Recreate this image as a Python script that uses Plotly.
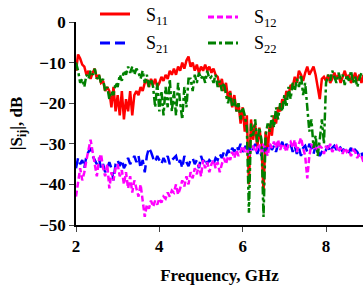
import plotly.graph_objects as go

freq = [round(2.0 + 0.05 * i, 2) for i in range(139)]

s11 = [-12, -8, -9, -10.5, -11, -13, -12, -14, -12.5, -11.5,
       -14, -13, -15, -14.5, -17, -16, -17, -21, -16, -22,
       -18, -23, -17, -24, -19, -22, -17, -23, -18, -17,
       -18, -16, -17, -15, -14.5, -16, -14, -15.5, -14, -16,
       -15, -13.5, -14.5, -13, -14, -12, -13, -11.5, -13, -11,
       -12, -10, -11.5, -9.5, -8.5, -11, -10, -12, -10.5, -12.5,
       -11, -12, -10.5, -12, -11, -12.5, -11.5, -13, -13.5, -16,
       -14, -17, -15, -19, -17, -21, -18, -22, -20, -25,
       -21, -27, -23, -40, -24, -29, -25, -31, -26, -30,
       -42, -27, -32, -25, -28, -23, -25, -21, -22, -19,
       -20, -17, -18, -15.5, -16, -13.5, -15, -12, -13, -14.5,
       -12.5, -11, -13, -12, -11, -13, -16, -19, -14, -13.5,
       -14.5, -13, -15, -14, -12.5, -14, -13, -15, -13.5, -12,
       -14, -13, -15, -14, -12.5, -14.5, -13, -15, -13]

s21 = [-36, -33.5, -35, -34, -36, -33, -32, -31, -33, -34,
       -35, -33.5, -36, -35, -37, -36, -34.5, -36, -39, -35,
       -34, -35.5, -34, -36, -35, -33.5, -35, -34, -33, -34.5,
       -33, -36, -34, -37, -33, -31, -32, -33.5, -34.5, -33,
       -34, -35, -33.5, -34.5, -33, -35, -34, -33.5, -33, -35,
       -34, -36, -33, -34.5, -35.5, -34, -33.5, -35, -34, -36,
       -33, -34.5, -33.5, -35, -34, -34.5, -35, -33.5, -34, -32.5,
       -33.5, -32, -33, -31.5, -32.5, -31, -32, -30.5, -31.5, -30,
       -32, -31, -30, -32, -30.5, -31.5, -30, -32.5, -31, -33,
       -30.5, -32, -31, -30, -31.5, -30.5, -32, -30, -31, -29.5,
       -31.5, -30, -31, -30, -32, -30.5, -32.5, -31, -33, -31,
       -30.5, -32, -30, -31, -32.5, -30.5, -31.5, -33, -32, -31,
       -31.5, -30.5, -32, -31, -30.5, -31.5, -30.5, -31, -32, -31,
       -31.5, -32, -31, -32.5, -31.5, -32, -33, -32, -34]

s12 = [-43, -40, -36, -39, -37, -34, -31, -29, -32, -35,
       -38, -34, -32.5, -36, -38, -35, -41, -37, -39, -36,
       -35, -38, -36.5, -40, -37, -41, -38, -42, -39, -41,
       -43, -40, -44, -48, -45, -46, -44, -45.5, -44, -45,
       -43.5, -44.5, -43, -43.5, -42, -43, -41.5, -42, -40, -42.5,
       -41, -39, -40.5, -38, -40, -37, -38.5, -36, -37.5, -35,
       -38, -34, -36, -34.5, -37, -35, -34, -36, -34.5, -37,
       -35, -33.5, -35, -33, -34, -32, -33.5, -31.5, -33, -32,
       -30.5, -32, -31, -33, -31.5, -30.5, -32, -31, -30, -32.5,
       -30, -31.5, -33, -30, -31, -29.5, -31, -29, -31.5, -30,
       -30.5, -32, -30, -29.5, -31, -29, -32, -30, -28.5, -31,
       -33, -38.5, -33, -30, -31.5, -30, -32, -30.5, -31, -32.5,
       -30.5, -31.5, -30, -32, -31, -30.5, -32, -31, -32.5, -31,
       -32, -31.5, -33, -31.5, -32, -33.5, -32.5, -33, -34.5]

s22 = [-10, -12, -15, -14, -16, -13, -14, -12, -13, -11.5,
       -14, -13, -15, -14, -17, -16, -19, -17, -18, -15,
       -16, -13, -14.5, -12, -13, -11, -12.5, -11, -13, -11.5,
       -12.5, -14, -12, -15, -13, -16, -14, -16, -21, -15,
       -22, -17, -23, -16, -21, -14, -22, -17, -23, -15,
       -20, -24, -16, -21, -14, -14, -17, -13, -15, -12.5,
       -14, -13, -15, -12, -14, -13.5, -15, -13, -16, -14.5,
       -17, -15, -18, -20, -17.5, -21, -19, -22, -20, -24,
       -21, -23, -26, -47, -25, -28, -24, -30, -26, -29,
       -48, -28, -25, -27, -23, -26, -21, -24, -20, -22,
       -18, -21, -16, -19, -15, -17, -14, -16, -13, -18,
       -15, -22, -27, -24, -31, -28, -33, -29, -24, -30,
       -15, -13, -14.5, -12, -13.5, -15, -12.5, -14, -13, -15.5,
       -13, -14.5, -12, -15, -13.5, -16, -14, -12.5, -13]

x_ticks = [2, 4, 6, 8]
y_ticks = [0, -10, -20, -30, -40, -50]

legend_names = ["S<sub>11</sub>", "S<sub>12</sub>", "S<sub>21</sub>", "S<sub>22</sub>"]
legend_colors = ["#ff0000", "#ff00ff", "#0000ff", "#008000"]
legend_dashes = ["solid", "6px,3px", "10px,5px", "8px,3px,3px,3px"]

SERIF = "Liberation Serif, Times New Roman, serif"
W, H = 363, 289
L, R, T, B = 76, 0, 22, 64
PW, PH = W - L - R, H - T - B


def px_x(px):
    return (px - L) / PW


def px_y(py):
    return (H - B - py) / PH


fig = go.Figure()
fig.add_trace(go.Scatter(x=freq, y=s11, mode="lines", name=legend_names[0], showlegend=False,
                         line=dict(color=legend_colors[0], width=2.5)))
fig.add_trace(go.Scatter(x=freq, y=s21, mode="lines", name=legend_names[2], showlegend=False,
                         line=dict(color=legend_colors[2], width=2.5, dash=legend_dashes[2])))
fig.add_trace(go.Scatter(x=freq, y=s12, mode="lines", name=legend_names[1], showlegend=False,
                         line=dict(color=legend_colors[1], width=2.5, dash=legend_dashes[1])))
fig.add_trace(go.Scatter(x=freq, y=s22, mode="lines", name=legend_names[3], showlegend=False,
                         line=dict(color=legend_colors[3], width=2.5, dash=legend_dashes[3])))

# legend drawn as shapes + annotations (2 x 2 grid)
leg_pos = [(100, 14), (208, 17), (100, 43), (208, 43)]
for (lx, ly), name, col, dash in zip(leg_pos, legend_names, legend_colors, legend_dashes):
    fig.add_shape(type="line", xref="paper", yref="paper",
                  x0=px_x(lx), x1=px_x(lx + 30), y0=px_y(ly), y1=px_y(ly),
                  line=dict(color=col, width=3, dash=dash))
    fig.add_annotation(xref="paper", yref="paper", x=px_x(lx + 44), y=px_y(ly + 2),
                       xanchor="left", yanchor="middle", showarrow=False, text=name,
                       font=dict(family=SERIF, size=18, color="black"))

fig.update_layout(
    width=W, height=H,
    margin=dict(l=L, r=R, t=T, b=B),
    paper_bgcolor="white", plot_bgcolor="white",
    font=dict(family=SERIF, color="black"),
    showlegend=False,
    hovermode=False,
    xaxis=dict(range=[2, 2 + PW / 41.67], tickvals=x_ticks, ticks="outside", ticklen=5,
               automargin=False,
               showline=True, linecolor="black", linewidth=1.5, showgrid=False, zeroline=False,
               tickfont=dict(family=SERIF, size=17, color="black", weight="bold"),
               title=dict(text="<b>Frequency, GHz</b>", font=dict(family=SERIF, size=17), standoff=14)),
    yaxis=dict(range=[-50, 0], tickvals=y_ticks, ticks="outside", ticklen=5,
               automargin=False,
               showline=True, linecolor="black", linewidth=1.5, showgrid=False, zeroline=False,
               tickfont=dict(family=SERIF, size=17, color="black", weight="bold"),
               title=dict(text="<b>|S<sub>ij</sub>|, dB</b>", font=dict(family=SERIF, size=17), standoff=12)),
)

fig.write_html("out.html", config={"displayModeBar": False},
               post_script="document.body.style.margin='0';document.body.style.overflow='hidden';")
